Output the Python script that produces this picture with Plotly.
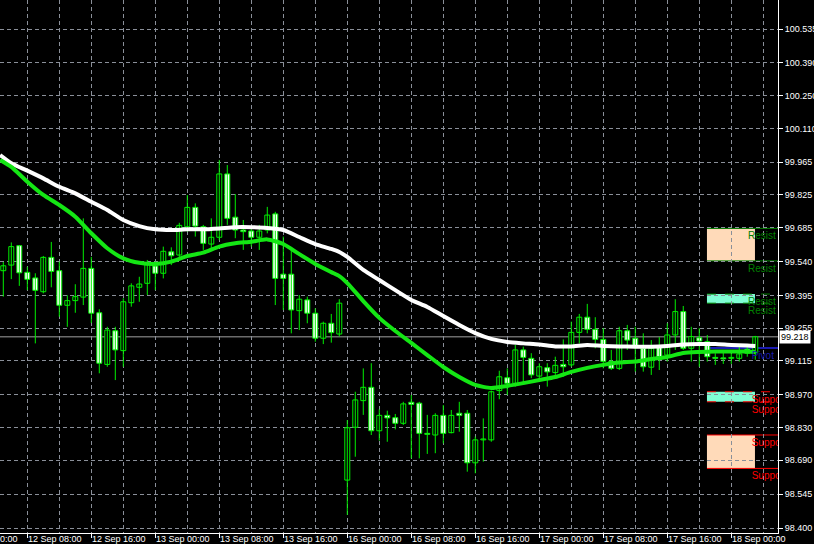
import plotly.graph_objects as go

# ---------------- data (H1 bars, bar index 0..94) ----------------
opens = [99.501, 99.525, 99.608, 99.494, 99.470, 99.411, 99.558, 99.501, 99.353, 99.373,
         99.388, 99.511, 99.321, 99.100, 99.244, 99.159, 99.364, 99.430, 99.447, 99.521,
         99.490, 99.582, 99.568, 99.689, 99.772, 99.689, 99.615, 99.644, 99.915, 99.730,
         99.675, 99.671, 99.644, 99.675, 99.744, 99.486, 99.486, 99.330, 99.376, 99.319,
         99.212, 99.276, 99.230, 98.605, 98.831, 98.945, 99.002, 98.816, 98.882, 98.872,
         98.848, 98.938, 98.934, 98.804, 98.798, 98.882, 98.808, 98.891, 98.891, 98.679,
         98.777, 98.777, 98.988, 99.043, 99.019, 99.162, 99.126, 99.050, 99.086, 99.065,
         99.100, 99.098, 99.237, 99.302, 99.250, 99.207, 99.113, 99.083, 99.244, 99.212,
         99.169, 99.088, 99.173, 99.140, 99.226, 99.326, 99.169, 99.214, 99.197, 99.130,
         99.127, 99.126, 99.126, 99.165, 99.150]
highs = [99.538, 99.622, 99.611, 99.518, 99.490, 99.564, 99.624, 99.540, 99.396, 99.443,
         99.725, 99.560, 99.336, 99.261, 99.261, 99.383, 99.447, 99.475, 99.547, 99.540,
         99.604, 99.601, 99.706, 99.825, 99.789, 99.697, 99.725, 99.975, 99.953, 99.829,
         99.718, 99.689, 99.697, 99.774, 99.753, 99.647, 99.590, 99.397, 99.390, 99.340,
         99.283, 99.316, 99.379, 98.862, 98.983, 99.083, 99.105, 98.908, 98.902, 98.888,
         98.940, 98.969, 98.940, 98.884, 98.891, 98.926, 98.905, 98.940, 98.905, 98.791,
         98.869, 98.988, 99.073, 99.083, 99.183, 99.176, 99.148, 99.105, 99.105, 99.133,
         99.207, 99.283, 99.316, 99.359, 99.302, 99.255, 99.162, 99.261, 99.269, 99.261,
         99.233, 99.204, 99.217, 99.276, 99.379, 99.350, 99.261, 99.255, 99.226, 99.148,
         99.154, 99.154, 99.183, 99.187, 99.222]
lows = [99.390, 99.465, 99.436, 99.418, 99.190, 99.404, 99.430, 99.304, 99.261, 99.321,
        99.354, 99.277, 99.062, 99.090, 99.033, 99.090, 99.347, 99.368, 99.397, 99.418,
        99.468, 99.525, 99.547, 99.668, 99.647, 99.590, 99.590, 99.632, 99.697, 99.640,
        99.590, 99.604, 99.590, 99.661, 99.354, 99.333, 99.233, 99.247, 99.276, 99.197,
        99.187, 99.193, 99.219, 98.456, 98.705, 98.884, 98.798, 98.774, 98.769, 98.822,
        98.841, 98.698, 98.698, 98.717, 98.720, 98.762, 98.805, 98.812, 98.641, 98.634,
        98.684, 98.769, 98.951, 98.969, 99.005, 99.012, 99.041, 99.026, 99.005, 99.055,
        99.047, 99.090, 99.190, 99.233, 99.169, 99.083, 99.076, 99.076, 99.162, 99.069,
        99.069, 99.055, 99.076, 99.112, 99.162, 99.162, 99.112, 99.090, 99.112, 99.098,
        99.102, 99.102, 99.112, 99.133, 99.120]
closes = [99.522, 99.604, 99.492, 99.464, 99.417, 99.558, 99.498, 99.353, 99.373, 99.390,
          99.511, 99.319, 99.105, 99.247, 99.162, 99.368, 99.436, 99.444, 99.530, 99.490,
          99.584, 99.565, 99.695, 99.772, 99.692, 99.618, 99.644, 99.915, 99.725, 99.675,
          99.668, 99.644, 99.671, 99.739, 99.468, 99.468, 99.333, 99.379, 99.319, 99.212,
          99.276, 99.236, 99.362, 98.829, 98.948, 99.002, 98.816, 98.882, 98.871, 98.848,
          98.931, 98.929, 98.805, 98.801, 98.882, 98.805, 98.882, 98.882, 98.679, 98.777,
          98.781, 98.983, 99.047, 99.019, 99.162, 99.130, 99.055, 99.090, 99.068, 99.096,
          99.090, 99.237, 99.302, 99.250, 99.207, 99.113, 99.083, 99.244, 99.204, 99.176,
          99.090, 99.169, 99.133, 99.226, 99.326, 99.169, 99.219, 99.200, 99.133, 99.126,
          99.124, 99.127, 99.145, 99.148, 99.218]

# Moving averages (bar index, price)
ma_idx = [-0.4, 1, 3, 5, 7, 9, 11, 13, 15, 17, 19, 21, 23, 25, 27, 29, 31, 33, 35, 37,
          39, 41, 42, 43, 45, 47, 49, 51, 53, 55, 57, 59, 61, 63, 65, 67, 69, 71, 73, 75,
          77, 79, 81, 83, 85, 87, 89, 91, 93, 94]
ma_slow = [99.996, 99.961, 99.929, 99.896, 99.860, 99.832, 99.796, 99.761, 99.718, 99.692,
           99.678, 99.675, 99.678, 99.678, 99.682, 99.687, 99.687, 99.684, 99.675, 99.645,
           99.615, 99.594, 99.581, 99.560, 99.504, 99.461, 99.418, 99.376, 99.346, 99.307,
           99.269, 99.234, 99.209, 99.196, 99.190, 99.185, 99.177, 99.177, 99.183, 99.179,
           99.177, 99.176, 99.176, 99.179, 99.185, 99.187, 99.187, 99.183, 99.181, 99.179]
ma_fast = [99.975, 99.945, 99.882, 99.825, 99.782, 99.732, 99.661, 99.597, 99.554, 99.535,
           99.530, 99.540, 99.564, 99.578, 99.604, 99.618, 99.625, 99.635, 99.615, 99.572,
           99.530, 99.495, 99.478, 99.448, 99.371, 99.299, 99.243, 99.192, 99.140, 99.089,
           99.046, 99.012, 98.999, 99.008, 99.020, 99.033, 99.046, 99.068, 99.085, 99.098,
           99.108, 99.112, 99.123, 99.132, 99.149, 99.153, 99.155, 99.155, 99.155, 99.153]

# time axis labels (bar index of each label)
time_label_idx = [-5, 3, 11, 19, 27, 35, 43, 51, 59, 67, 75, 83, 91]
time_labels = ["12 Sep 00:00", "12 Sep 08:00", "12 Sep 16:00", "13 Sep 00:00", "13 Sep 08:00",
               "13 Sep 16:00", "16 Sep 00:00", "16 Sep 08:00", "16 Sep 16:00", "17 Sep 00:00",
               "17 Sep 08:00", "17 Sep 16:00", "18 Sep 00:00"]
grid_idx_minor = [7, 15, 23, 31, 39, 47, 55, 63, 71, 79, 87, 95]

price_labels = ["98.400", "98.545", "98.690", "98.830", "98.970", "99.115", "99.255", "99.395",
                "99.540", "99.685", "99.825", "99.965", "100.110", "100.250", "100.390", "100.535"]
current_price = 99.218

# support / resistance zones (labels as visible at the chart edge)
zone_start, zone_end = 87.96, 93.96
zone_tops = [99.682, 99.401, 98.983, 98.798]
zone_bottoms = [99.543, 99.362, 98.940, 98.655]
zone_fill = ["#FFDAB9", "#7FFFD4", "#7FFFD4", "#FFDAB9"]
zone_line_color = ["#008000", "#008000", "#FF0000", "#FF0000"]
zone_line_dash = ["solid", "dash", "dash", "solid"]
zone_names = ["Resist", "Resist", "Suppo", "Suppo"]
pivot_level = 99.170
pivot_name = "Pivot"

# ---------------- figure ----------------
fig = go.Figure()
n = len(opens)
idx = list(range(n))

wx, wy = [], []
for i in idx:
    wx += [i, i, None]
    wy += [lows[i], highs[i], None]
fig.add_trace(go.Scatter(x=wx, y=wy, mode="lines", line=dict(color="#00F000", width=1),
                         hoverinfo="skip"))

MINB = 0.004
bx, bb, bh, sx, sb, sh = [], [], [], [], [], []
for i in idx:
    o, c = opens[i], closes[i]
    lo, hi = min(o, c), max(o, c)
    h = max(hi - lo, MINB)
    if c >= o:
        bx.append(i); bb.append(lo); bh.append(h)
    else:
        sx.append(i); sb.append(lo); sh.append(h)
fig.add_trace(go.Bar(x=bx, y=bh, base=bb, width=0.62, marker=dict(color="#000000",
                     line=dict(color="#00F000", width=1))))
fig.add_trace(go.Bar(x=sx, y=sh, base=sb, width=0.62, marker=dict(color="#FFFFFF",
                     line=dict(color="#00F000", width=1))))

fig.add_trace(go.Scatter(x=ma_idx, y=ma_slow, mode="lines",
                         line=dict(color="#FFFFFF", width=4, shape="spline", smoothing=0.6)))
fig.add_trace(go.Scatter(x=ma_idx, y=ma_fast, mode="lines",
                         line=dict(color="#14E614", width=4, shape="spline", smoothing=0.6)))

shapes = []
XR = [-0.4125, 96.84]
for t, b, fc, lc, ld in zip(zone_tops, zone_bottoms, zone_fill, zone_line_color, zone_line_dash):
    shapes.append(dict(type="rect", xref="x", yref="y", x0=zone_start, x1=zone_end, y0=b, y1=t,
                       fillcolor=fc, line=dict(width=0), layer="below"))
    for lev in (t, b):
        shapes.append(dict(type="line", xref="x", yref="y", x0=zone_start, x1=XR[1], y0=lev, y1=lev,
                           line=dict(color=lc, width=1, dash=ld), layer="below"))
shapes.append(dict(type="line", xref="x", yref="y", x0=zone_start, x1=XR[1], y0=pivot_level,
                   y1=pivot_level, line=dict(color="#1A1AB0", width=2), layer="below"))
shapes.append(dict(type="line", xref="paper", yref="y", x0=0, x1=1, y0=current_price,
                   y1=current_price, line=dict(color="#A0A0A0", width=1), layer="below"))

# zone labels (placed just below each level line)
LABEL_DROP = 0.014
tx, ty, tt, tc = [], [], [], []
for t, b, nm, lc in zip(zone_tops, zone_bottoms, zone_names, zone_line_color):
    for lev in (t, b):
        tx.append(93.1 if nm == "Resist" else 93.55)
        ty.append(lev - LABEL_DROP); tt.append(nm); tc.append(lc)
tx.append(93.55); ty.append(pivot_level - LABEL_DROP); tt.append(pivot_name); tc.append("#1A1AB0")
fig.add_trace(go.Scatter(x=tx, y=ty, text=tt, mode="text", textposition="bottom right",
                         textfont=dict(color=tc, size=10, family="Liberation Sans"),
                         cliponaxis=True))

# time labels: left-aligned at their bar, placed in paper coords so a partly hidden one still shows
annotations = []
span = XR[1] - XR[0]
for xi, lab in zip(time_label_idx, time_labels):
    annotations.append(dict(x=(xi - XR[0]) / span, y=0, xref="paper", yref="paper", text=lab,
                            showarrow=False, xanchor="left", yanchor="top", yshift=0, borderpad=0,
                            font=dict(color="#FFFFFF", size=9, family="Liberation Sans")))
annotations.append(dict(x=1, y=current_price, xref="paper", yref="y", text=f"{current_price:.3f}",
                        showarrow=False, xanchor="left", yanchor="middle", xshift=1,
                        bgcolor="#FFFFFF", borderpad=1,
                        font=dict(color="#000000", size=9, family="Liberation Sans")))

GRID = "#8A8F99"
fig.update_layout(
    width=814, height=544, margin=dict(l=0, r=36, t=0, b=11),
    paper_bgcolor="#000000", plot_bgcolor="#000000", showlegend=False,
    barmode="overlay", shapes=shapes, annotations=annotations,
    font=dict(family="Liberation Sans", size=9, color="#FFFFFF"),
    xaxis=dict(range=XR, showline=True, linecolor="#FFFFFF", linewidth=1,
               tickmode="array", tickvals=time_label_idx, showticklabels=False,
               ticks="outside", ticklen=4, tickcolor="#FFFFFF",
               showgrid=True, gridcolor=GRID, griddash="4px,3px", gridwidth=1,
               zeroline=False, automargin=False, fixedrange=True,
               minor=dict(tickmode="array", tickvals=grid_idx_minor, showgrid=True,
                          gridcolor=GRID, griddash="4px,3px", gridwidth=1, ticks="")),
    yaxis=dict(range=[98.3786, 100.6593], side="right", showline=True, linecolor="#FFFFFF",
               linewidth=1, tickmode="array", tickvals=[float(v) for v in price_labels],
               ticktext=price_labels, ticks="outside", ticklen=4, tickcolor="#FFFFFF",
               showgrid=True, gridcolor=GRID, griddash="4px,3px", gridwidth=1,
               zeroline=False, automargin=False, fixedrange=True,
               tickfont=dict(color="#FFFFFF", size=9, family="Liberation Sans")),
)

fig.write_html("out.html", config={"displayModeBar": False},
               post_script="document.body.style.margin='0';document.body.style.overflow='hidden';")
